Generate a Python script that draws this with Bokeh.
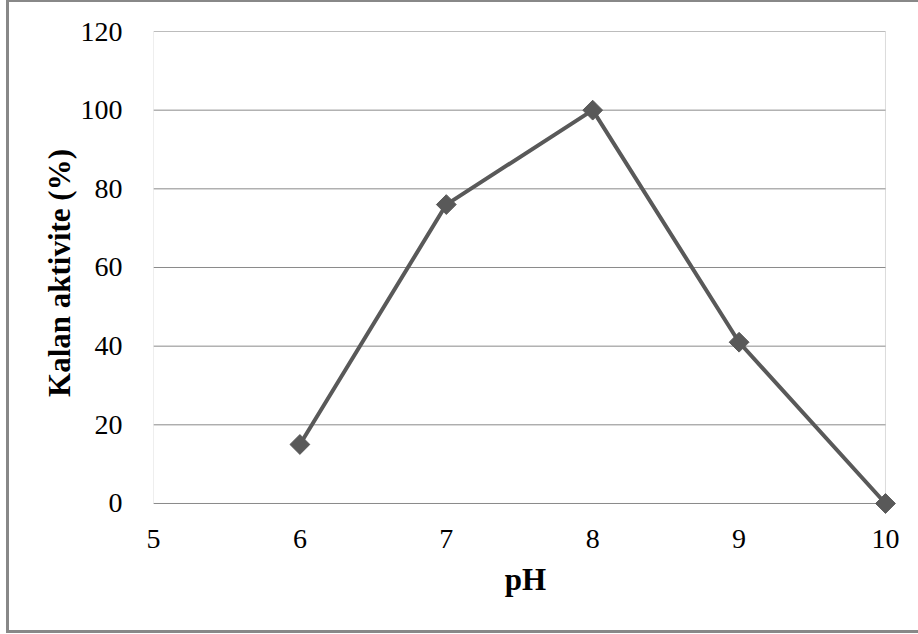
from bokeh.plotting import figure
from bokeh.models import BoxAnnotation, Range1d, FixedTicker
from bokeh.embed import file_html
from bokeh.resources import INLINE
import math

# pH vs residual activity
ph = [6, 7, 8, 9, 10]
activity = [15, 76, 100, 41, 0]
x_ticks = [5, 6, 7, 8, 9, 10]
y_ticks = [0, 20, 40, 60, 80, 100, 120]

X_MIN, X_MAX = 5, 10
Y_MIN, Y_MAX = 0, 120

FONT = "Liberation Serif"
GRID = "#8a8a8a"
SERIES = "#595959"

# the frame is padded on the right and below so the end markers are not cut;
# the plot-area border and gridlines are drawn only over the real axis extent
p = figure(width=918, height=634, output_backend="svg", toolbar_location=None,
           x_range=Range1d(X_MIN, 10.082), y_range=Range1d(-2.8, Y_MAX),
           min_border_left=153, min_border_right=21, min_border_top=31, min_border_bottom=120)
p.background_fill_color = "white"
p.border_fill_color = "white"
p.outline_line_color = None
p.xgrid.visible = False
p.ygrid.visible = False

p.xaxis.ticker = FixedTicker(ticks=x_ticks)
p.yaxis.ticker = FixedTicker(ticks=y_ticks)
for ax in (p.xaxis[0], p.yaxis[0]):
    ax.axis_line_color = None
    ax.major_tick_line_color = None
    ax.minor_tick_line_color = None
    ax.major_label_text_font = FONT
    ax.major_label_text_font_size = "28px"
    ax.major_label_text_color = "black"
    ax.axis_label_text_font = FONT
    ax.axis_label_text_font_style = "bold"
    ax.axis_label_text_font_size = "31px"
    ax.axis_label_text_color = "black"

p.xaxis.axis_label = "pH"
p.yaxis.axis_label = "Kalan aktivite (%)"
p.xaxis.major_label_standoff = 9
p.xaxis.axis_label_standoff = 11
p.yaxis.major_label_standoff = 25
p.yaxis.axis_label_standoff = 1

# horizontal gridlines and plot-area border
p.segment(x0=[X_MIN] * len(y_ticks), x1=[X_MAX] * len(y_ticks), y0=y_ticks, y1=y_ticks,
          line_color=GRID, line_width=1)
p.add_layout(BoxAnnotation(left=X_MIN, right=X_MAX, bottom=Y_MIN, top=Y_MAX,
                           fill_alpha=0, line_color=GRID, line_width=1, level="underlay"))

p.line(ph, activity, line_color=SERIES, line_width=4)
p.scatter(ph, activity, marker="square", angle=math.pi / 4, size=14,
          fill_color=SERIES, line_color=SERIES, line_width=1)

html = file_html(p, INLINE)
# gray frame around the whole chart, laid over the page
frame = ('<div style="position:absolute;left:6px;top:-1px;width:940px;height:634px;'
         'border:3px solid #888888;box-sizing:border-box;pointer-events:none;z-index:10"></div>')
html = html.replace("</body>", frame + "</body>")
open("out.html", "w").write(html)
